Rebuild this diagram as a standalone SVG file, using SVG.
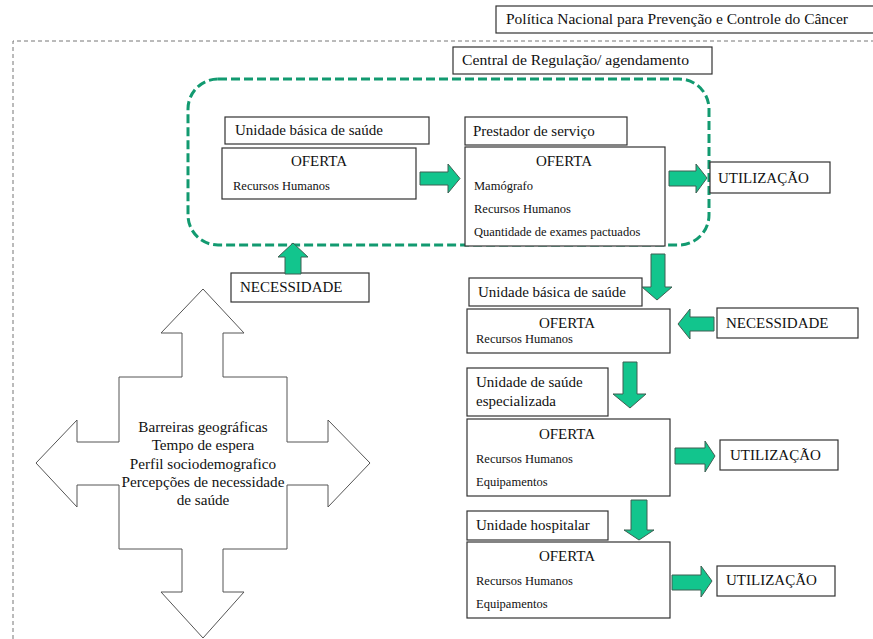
<svg xmlns="http://www.w3.org/2000/svg" width="873" height="639" viewBox="0 0 873 639">
<style>
.bx{fill:#fff;stroke:#333;stroke-width:1.2}
.t,.s,.o,.c{font-family:'Liberation Serif','Times New Roman','DejaVu Serif',serif;fill:#111}
.t{font-size:15px}
.s{font-size:12.5px}
.o{font-size:15px;text-anchor:middle}
.c{font-size:15.2px;text-anchor:middle}
.ar{fill:#12c58d;stroke:#3f5f52;stroke-width:1}
.big{fill:#fff;stroke:#555;stroke-width:1}
</style>
<rect width="873" height="639" fill="#fff"/>
<path d="M13,639 V41 H873" fill="none" stroke="#777" stroke-width="1" stroke-dasharray="4,3"/>
<g id="politica"><rect class="bx" x="496" y="6" width="380" height="27"/><text class="t" x="506" y="24" textLength="342" lengthAdjust="spacingAndGlyphs">Política Nacional para Prevenção e Controle do Câncer</text></g>
<g id="central"><rect class="bx" x="453" y="47" width="259" height="27"/><text class="t" x="462" y="65" textLength="227" lengthAdjust="spacingAndGlyphs">Central de Regulação/ agendamento</text></g>
<rect id="regiao" x="188" y="79" width="521" height="166" rx="30" ry="30" fill="none" stroke="#129a70" stroke-width="3" stroke-dasharray="9,4"/>
<g id="ubs1"><rect class="bx" x="225" y="117" width="204" height="27"/><text class="t" x="235" y="135">Unidade básica de saúde</text></g>
<g id="oferta1"><rect class="bx" x="222" y="148" width="194" height="51"/><text class="o" x="319" y="166">OFERTA</text><text class="s" x="233" y="190">Recursos Humanos</text></g>
<g id="prestador"><rect class="bx" x="465" y="117" width="162" height="28"/><text class="t" x="473" y="136">Prestador de serviço</text></g>
<g id="oferta2"><rect class="bx" x="465" y="147" width="200" height="99"/><text class="o" x="564" y="166">OFERTA</text><text class="s" x="474" y="190">Mamógrafo</text><text class="s" x="474" y="213">Recursos Humanos</text><text class="s" x="474" y="236">Quantidade de exames pactuados</text></g>
<g id="util1"><rect class="bx" x="710" y="162" width="120" height="31"/><text class="t" x="718" y="183">UTILIZAÇÃO</text></g>
<g id="nec1"><rect class="bx" x="231" y="273" width="138" height="29"/><text class="t" x="240" y="292">NECESSIDADE</text></g>
<g id="ubs2"><rect class="bx" x="469" y="278" width="173" height="28"/><text class="t" x="478" y="297">Unidade básica de saúde</text></g>
<g id="oferta3"><rect class="bx" x="467" y="309" width="203" height="44"/><text class="o" x="567" y="328">OFERTA</text><text class="s" x="476" y="343">Recursos Humanos</text></g>
<g id="nec2"><rect class="bx" x="717" y="308" width="141" height="30"/><text class="t" x="726" y="328">NECESSIDADE</text></g>
<g id="especializada"><rect class="bx" x="467" y="368" width="141" height="48"/><text class="t" x="476" y="387">Unidade de saúde</text><text class="t" x="476" y="406">especializada</text></g>
<g id="oferta4"><rect class="bx" x="467" y="419" width="203" height="77"/><text class="o" x="567" y="439">OFERTA</text><text class="s" x="476" y="463">Recursos Humanos</text><text class="s" x="476" y="486">Equipamentos</text></g>
<g id="util2"><rect class="bx" x="720" y="440" width="118" height="30"/><text class="t" x="730" y="460">UTILIZAÇÃO</text></g>
<g id="hospitalar"><rect class="bx" x="467" y="511" width="141" height="29"/><text class="t" x="476" y="530">Unidade hospitalar</text></g>
<g id="oferta5"><rect class="bx" x="467" y="542" width="203" height="76"/><text class="o" x="567" y="561">OFERTA</text><text class="s" x="476" y="585">Recursos Humanos</text><text class="s" x="476" y="608">Equipamentos</text></g>
<g id="util3"><rect class="bx" x="717" y="566" width="118" height="30"/><text class="t" x="726" y="585">UTILIZAÇÃO</text></g>
<g id="barreiras">
<path class="big" d="M203,289 L244,333 L223,333 L223,377 L287,377 L287,442 L328,442 L328,420 L370,463 L328,507 L328,485 L287,485 L287,549 L223,549 L223,592 L244,592 L203,638 L161,592 L182,592 L182,549 L119,549 L119,485 L77,485 L77,507 L36,463 L77,420 L77,442 L119,442 L119,377 L182,377 L182,333 L161,333 Z"/>
<text class="c" x="203" y="432">Barreiras geográficas</text>
<text class="c" x="203" y="450">Tempo de espera</text>
<text class="c" x="203" y="469">Perfil sociodemografico</text>
<text class="c" x="203" y="487">Percepções de necessidade</text>
<text class="c" x="203" y="505">de saúde</text>
</g>
<g id="connectors">
<path class="ar" d="M420,172 H448 V164 L460,178.5 L448,193 V185 H420 Z"/>
<path class="ar" d="M669,171 H696 V164 L707,178 L696,193 V186 H669 Z"/>
<path class="ar" d="M285,274 V257 H278 L293,243 L308,257 H301 V274 Z"/>
<path class="ar" d="M651,254 V287 H642 L657,300 L672,287 H665 V254 Z"/>
<path class="ar" d="M714,317 H690 V309 L678,324 L690,339 V331 H714 Z"/>
<path class="ar" d="M623,362 V394 H613 L630,408 L646,394 H637 V362 Z"/>
<path class="ar" d="M675,448 H705 V441 L715,456 L705,472 V464 H675 Z"/>
<path class="ar" d="M631,500 V530 H624 L639,540 L654,530 H647 V500 Z"/>
<path class="ar" d="M672,575 H701 V566 L712,581 L701,597 V590 H672 Z"/>
</g>
</svg>
